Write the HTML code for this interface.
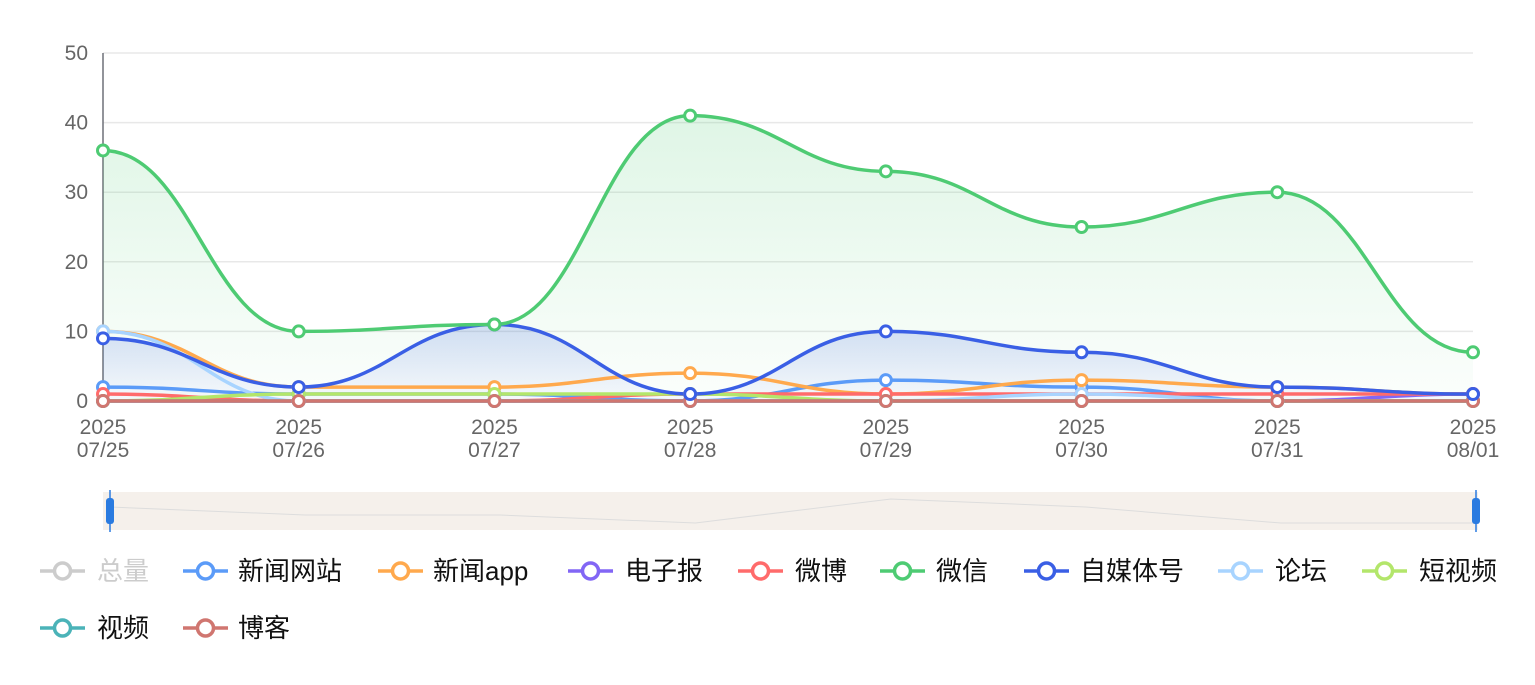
<!DOCTYPE html>
<html><head><meta charset="utf-8"><style>
body{margin:0;background:#fff;}
svg text{font-family:"Liberation Sans","Noto Sans CJK SC",sans-serif;}
</style></head><body>
<svg id="s" width="1535" height="680" xmlns="http://www.w3.org/2000/svg">
<defs>
<linearGradient id="gg" x1="0" y1="0" x2="0" y2="1"><stop offset="0" stop-color="#4ecb73" stop-opacity="0.18"/><stop offset="1" stop-color="#4ecb73" stop-opacity="0.02"/></linearGradient>
<linearGradient id="bg" x1="0" y1="0" x2="0" y2="1"><stop offset="0" stop-color="#3a5fe5" stop-opacity="0.2"/><stop offset="1" stop-color="#3a5fe5" stop-opacity="0.03"/></linearGradient>
</defs>
<g id="grid"></g>
<g id="areas"></g>
<g id="lines"></g>
<g id="pts"></g>
<g id="lbl"></g>
<rect x="103" y="492" width="1375" height="38" fill="#f5f0eb"/>
<path id="shadow" fill="none" stroke="#ddd" stroke-width="1"/>
<rect x="106" y="498" width="8" height="26" rx="3" fill="#2a7be0"/>
<line x1="110" y1="490" x2="110" y2="532" stroke="#2a7be0" stroke-width="1.5"/>
<rect x="1472" y="498" width="8" height="26" rx="3" fill="#2a7be0"/>
<line x1="1476" y1="490" x2="1476" y2="532" stroke="#2a7be0" stroke-width="1.5"/>
<g id="leg"></g>
</svg>
<script>
const NS="http://www.w3.org/2000/svg";
function el(p,t,a,txt){const e=document.createElementNS(NS,t);for(const k in a)e.setAttribute(k,a[k]);if(txt!=null)e.textContent=txt;document.getElementById(p).appendChild(e);return e;}
const X=i=>103+i*(1370/7), Y=v=>401-v*6.96;
for(let v=0;v<=50;v+=10){ if(v>0) el("grid","line",{x1:103,x2:1473,y1:Y(v),y2:Y(v),stroke:"#e8e8e8","stroke-width":1.5});
 el("lbl","text",{x:88,y:Y(v)+7,"text-anchor":"end","font-size":21,fill:"#666"},v);}
el("grid","line",{x1:103,x2:103,y1:53,y2:401,stroke:"#6e7079","stroke-width":1.5});
const dates=["07/25","07/26","07/27","07/28","07/29","07/30","07/31","08/01"];
dates.forEach((d,i)=>{el("lbl","text",{x:X(i),y:434,"text-anchor":"middle","font-size":21,fill:"#666"},"2025");el("lbl","text",{x:X(i),y:457,"text-anchor":"middle","font-size":21,fill:"#666"},d);});
const S=[
["新闻网站","#5b9bf8",[2,1,1,0,3,2,0,0]],
["新闻app","#ffa94d",[10,2,2,4,1,3,2,1]],
["电子报","#8266f5",[0,0,0,0,0,0,0,1]],
["微博","#ff6b6b",[1,0,0,1,1,1,1,1]],
["论坛","#a8d4ff",[10,0,0,0,0,1,0,0]],
["短视频","#b3e66b",[0,1,1,1,0,0,0,0]],
["视频","#4bb3b8",[0,0,0,0,0,0,0,0]],
["博客","#d07670",[0,0,0,0,0,0,0,0]],
["自媒体号","#3a5fe5",[9,2,11,1,10,7,2,1]],
["微信","#4ecb73",[36,10,11,41,33,25,30,7]],
];
function path(d){let p="M"+X(0)+","+Y(d[0]);for(let i=0;i<d.length-1;i++){const dx=X(i+1)-X(i);p+=" C"+(X(i)+dx*0.45)+","+Y(d[i])+" "+(X(i+1)-dx*0.45)+","+Y(d[i+1])+" "+X(i+1)+","+Y(d[i+1]);}return p;}
S.forEach(([n,c,d])=>{
 if(n=="微信")el("areas","path",{d:path(d)+" L1473,401 L103,401Z",fill:"url(#gg)"});
 if(n=="自媒体号")el("areas","path",{d:path(d)+" L1473,401 L103,401Z",fill:"url(#bg)"});
 el("lines","path",{d:path(d),fill:"none",stroke:c,"stroke-width":3.5});
 d.forEach((v,i)=>el("pts","circle",{cx:X(i),cy:Y(v),r:5.5,fill:"#fff",stroke:c,"stroke-width":3}));
});
const sh=[507,515,515,523,499,507,523,523];let sp="";sh.forEach((y,i)=>{sp+=(i?"L":"M")+(110+i*195.14)+","+y;});
document.getElementById("shadow").setAttribute("d",sp);
const L=[["总量","#ccc",40,97,571,true],["新闻网站","#5b9bf8",183,238,571],["新闻app","#ffa94d",378,433,571],["电子报","#8266f5",568,625,571],["微博","#ff6b6b",738,795,571],["微信","#4ecb73",880,936,571],["自媒体号","#3a5fe5",1024,1080,571],["论坛","#a8d4ff",1218,1275,571],["短视频","#b3e66b",1362,1419,571],["视频","#4bb3b8",40,97,628],["博客","#d07670",183,238,628]];
L.forEach(([n,c,ix,tx,y,off])=>{el("leg","line",{x1:ix,x2:ix+45,y1:y,y2:y,stroke:c,"stroke-width":3.5});el("leg","circle",{cx:ix+22.5,cy:y,r:8,fill:"#fff",stroke:c,"stroke-width":3.5});
 el("leg","text",{x:tx,y:y+9,"font-size":26,fill:off?"#ccc":"#111"},n);});
</script>
</body></html>
